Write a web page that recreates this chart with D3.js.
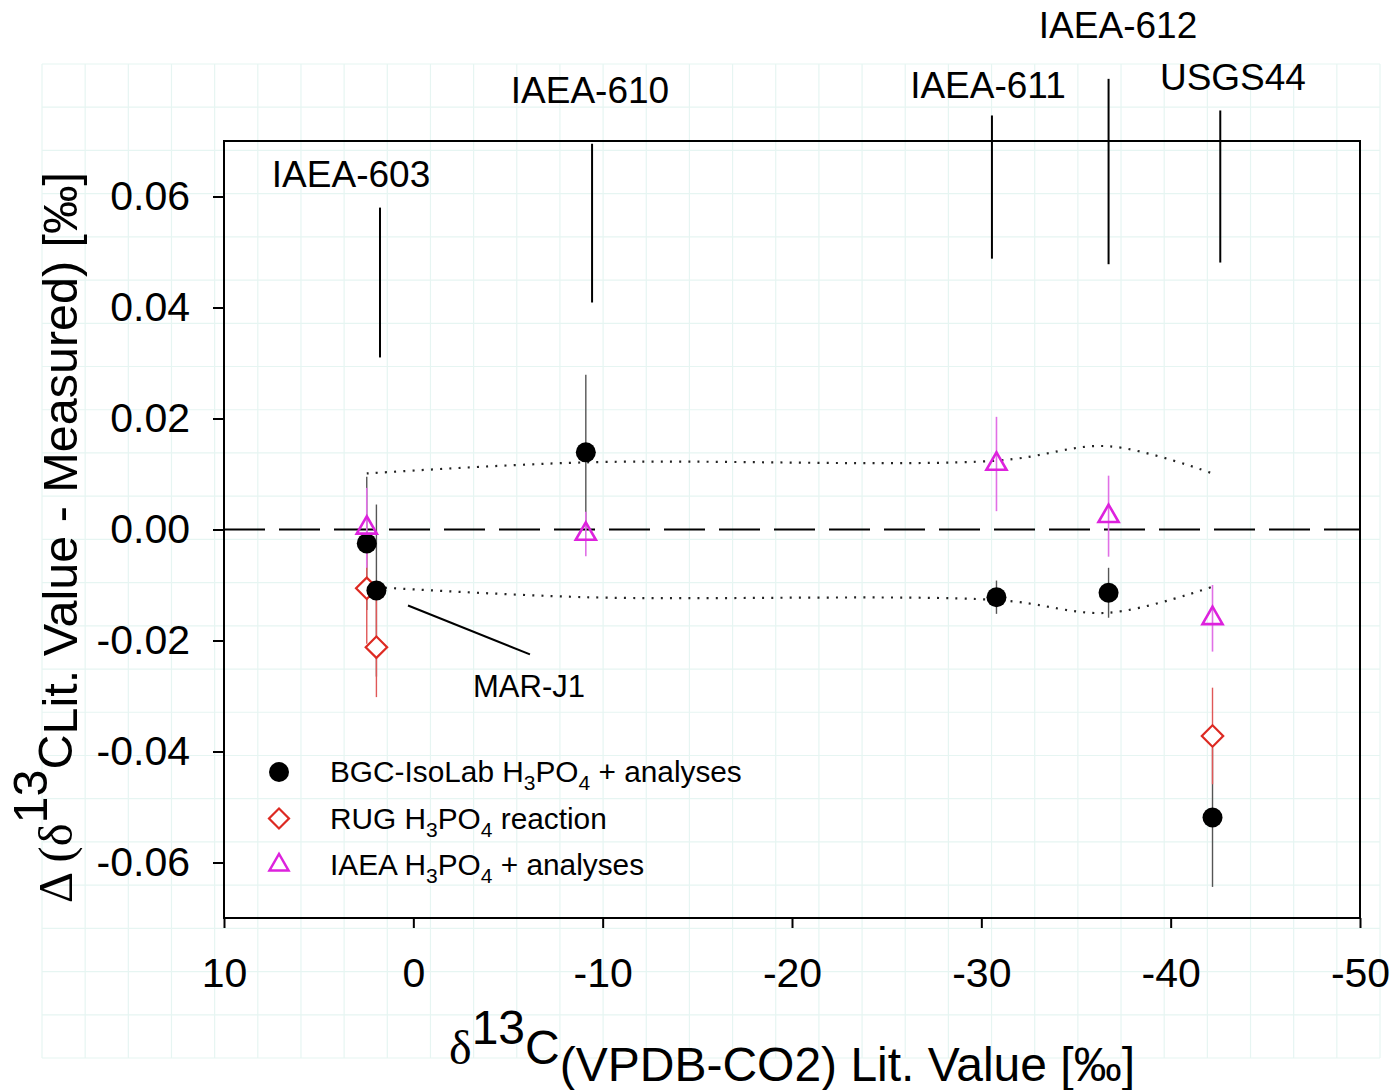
<!DOCTYPE html>
<html>
<head>
<meta charset="utf-8">
<script src="https://cdn.jsdelivr.net/npm/d3@7"></script>
<style>
  body { margin: 0; background: #fff; }
  text { font-family: "Liberation Sans", Arial, sans-serif; fill: #000; }
</style>
</head>
<body>
<svg id="chart" width="1392" height="1090"></svg>
<script>
////////////////// data ////////////////////
// BGC-IsoLab (black circles)
const bgcX = [2.46, 1.95, -9.11, -30.80, -36.72, -42.21];
const bgcDelta = [-0.0025, -0.0110, 0.0139, -0.0122, -0.0114, -0.0519];
const bgcErr = [0.012, 0.0155, 0.014, 0.003, 0.0045, 0.0125];
// RUG (red diamonds)
const rugX = [2.46, 1.95, -42.21];
const rugDelta = [-0.0106, -0.0212, -0.0372];
const rugErr = [0.010, 0.009, 0.0087];
// IAEA (magenta triangles)
const iaeaX = [2.46, -9.11, -30.80, -36.72, -42.21];
const iaeaDelta = [0.0003, -0.0008, 0.0118, 0.0024, -0.0160];
const iaeaErr = [0.0072, 0.004, 0.0085, 0.0073, 0.006];
// dotted uncertainty envelope
const boundX = [2.46, -9.11, -30.80, -36.72, -42.21];
const upperBound = [0.0101, 0.0121, 0.0124, 0.0150, 0.0101];
const lowerBound = [-0.0103, -0.0122, -0.0127, -0.0150, -0.0103];
// ticks
const xTicks = [10, 0, -10, -20, -30, -40, -50];
const yTicks = [-0.06, -0.04, -0.02, 0, 0.02, 0.04, 0.06];
// reference material annotations
const refNames = ["IAEA-603", "IAEA-610", "IAEA-611", "IAEA-612", "USGS44"];
const refLabelX = [3.29, -9.33, -30.35, -37.22, -43.29];
const refLabelY = [0.0618, 0.0769, 0.0778, 0.0886, 0.0791];
const refLineX = [1.76, -9.44, -30.56, -36.72, -42.62];
const refLineTop = [0.0580, 0.0695, 0.0746, 0.0812, 0.0755];
const refLineBottom = [0.0310, 0.0409, 0.0488, 0.0478, 0.0481];
// legend
const legendNames = ["BGC-IsoLab", "RUG", "IAEA"];
const legendTails = [" + analyses", " reaction", " + analyses"];

////////////////// layout ////////////////////
const svg = d3.select("#chart");
const plot = { left: 224, right: 1360, top: 141, bottom: 918 };
const x = d3.scaleLinear().domain([10, -50]).range([plot.left, plot.right]);
const y = d3.scaleLinear().domain([-0.07, 0.07]).range([plot.bottom, plot.top]);

const colBlack = "#000", colRed = "#dd2a22", colMag = "#dd22dd";

// faint background grid (paper look)
const grid = svg.append("g").attr("stroke", "#e6f5f2").attr("stroke-width", 1.2);
const gx0 = 42, gx1 = 1380, gy0 = 64, gy1 = 1058;
d3.range(32).forEach(i => {
    const gx = gx0 + i * (gx1 - gx0) / 31;
    grid.append("line").attr("x1", gx).attr("x2", gx).attr("y1", gy0).attr("y2", gy1);
});
d3.range(24).forEach(i => {
    const gy = gy0 + i * (gy1 - gy0) / 23;
    grid.append("line").attr("x1", gx0).attr("x2", gx1).attr("y1", gy).attr("y2", gy);
});

// axes
const fmtY = d => d.toFixed(2).replace("-0.00", "0.00");
const yAxis = svg.append("g")
    .attr("transform", `translate(${plot.left},0)`)
    .call(d3.axisLeft(y).tickValues(yTicks).tickFormat(fmtY).tickSize(11).tickPadding(23));
const xAxis = svg.append("g")
    .attr("transform", `translate(0,${plot.bottom})`)
    .call(d3.axisBottom(x).tickValues(xTicks).tickFormat(d => String(d)).tickSize(10).tickPadding(30));
[xAxis, yAxis].forEach(a => {
    a.select(".domain").remove();
    a.selectAll(".tick line").attr("stroke", "#000").attr("stroke-width", 2);
    a.selectAll(".tick text").attr("font-size", 41).attr("font-family", "Liberation Sans, Arial, sans-serif").attr("fill", "#000");
});

// zero line
svg.append("line")
    .attr("x1", x(10)).attr("x2", x(-50))
    .attr("y1", y(0)).attr("y2", y(0))
    .attr("stroke", "#000").attr("stroke-width", 2.2)
    .attr("stroke-dasharray", "41 14");

// dotted envelope
const envLine = d3.line().x(d => x(d[0])).y(d => y(d[1])).curve(d3.curveCatmullRom.alpha(0.5));
[upperBound, lowerBound].forEach(b => {
    svg.append("path")
        .attr("d", envLine(boundX.map((v, i) => [v, b[i]])))
        .attr("fill", "none").attr("stroke", "#222").attr("stroke-width", 2.2)
        .attr("stroke-dasharray", "2 7.2");
});

// error bars
function errBars(xs, ys, es, col, w) {
    svg.append("g").selectAll("line")
        .data(xs.map((v, i) => ({ x: v, y: ys[i], e: es[i] })))
        .join("line")
        .attr("x1", d => x(d.x)).attr("x2", d => x(d.x))
        .attr("y1", d => y(d.y + d.e)).attr("y2", d => y(d.y - d.e))
        .attr("stroke", col).attr("stroke-width", w);
}
errBars(bgcX, bgcDelta, bgcErr, "#555", 1.4);
errBars(rugX, rugDelta, rugErr, "#e05858", 1.4);
errBars(iaeaX, iaeaDelta, iaeaErr, "#e070e6", 1.6);

// symbols
const diamond = d3.symbol().type(d3.symbolSquare).size(230);
const triangle = d3.symbol().type(d3.symbolTriangle).size(175);

svg.append("g").selectAll("path")
    .data(rugX.map((v, i) => [v, rugDelta[i]]))
    .join("path")
    .attr("d", diamond)
    .attr("transform", d => `translate(${x(d[0])},${y(d[1])}) rotate(45)`)
    .attr("fill", "#fff").attr("stroke", colRed).attr("stroke-width", 2.2);

svg.append("g").selectAll("circle")
    .data(bgcX.map((v, i) => [v, bgcDelta[i]]))
    .join("circle")
    .attr("cx", d => x(d[0])).attr("cy", d => y(d[1])).attr("r", 10)
    .attr("fill", colBlack);

svg.append("g").selectAll("path")
    .data(iaeaX.map((v, i) => [v, iaeaDelta[i]]))
    .join("path")
    .attr("d", triangle)
    .attr("transform", d => `translate(${x(d[0])},${y(d[1])})`)
    .attr("fill", "none").attr("stroke", colMag).attr("stroke-width", 2.6);

// frame
svg.append("rect")
    .attr("x", plot.left).attr("y", plot.top)
    .attr("width", plot.right - plot.left).attr("height", plot.bottom - plot.top)
    .attr("fill", "none").attr("stroke", "#000").attr("stroke-width", 2);

// reference annotations
refNames.forEach((n, i) => {
    svg.append("line")
        .attr("x1", x(refLineX[i])).attr("x2", x(refLineX[i]))
        .attr("y1", y(refLineTop[i])).attr("y2", y(refLineBottom[i]))
        .attr("stroke", "#000").attr("stroke-width", 2);
    svg.append("text")
        .attr("x", x(refLabelX[i])).attr("y", y(refLabelY[i]))
        .attr("text-anchor", "middle").attr("font-size", 37)
        .text(n);
});
// MAR-J1 leader
svg.append("line")
    .attr("x1", x(0.28)).attr("y1", y(-0.0137))
    .attr("x2", x(-6.16)).attr("y2", y(-0.0225))
    .attr("stroke", "#000").attr("stroke-width", 2);
svg.append("text")
    .attr("x", x(-6.11)).attr("y", y(-0.0301))
    .attr("text-anchor", "middle").attr("font-size", 31)
    .text("MAR-J1");

// legend
const legend = svg.append("g").attr("transform", "translate(279,772)");
legendNames.forEach((n, i) => {
    const row = legend.append("g").attr("transform", `translate(0,${i * 46.5})`);
    if (i === 0) row.append("circle").attr("r", 10).attr("fill", colBlack);
    if (i === 1) row.append("path").attr("d", d3.symbol().type(d3.symbolSquare).size(200))
        .attr("transform", "rotate(45)").attr("fill", "none").attr("stroke", colRed).attr("stroke-width", 2.2);
    if (i === 2) row.append("path").attr("d", d3.symbol().type(d3.symbolTriangle).size(160))
        .attr("fill", "none").attr("stroke", colMag).attr("stroke-width", 2.4);
    const t = row.append("text").attr("x", 51).attr("y", 10).attr("font-size", 29.8);
    t.append("tspan").text(n + " H");
    t.append("tspan").attr("font-size", 21).attr("dy", 8).text("3");
    t.append("tspan").attr("dy", -8).text("PO");
    t.append("tspan").attr("font-size", 21).attr("dy", 8).text("4");
    t.append("tspan").attr("dy", -8).text(legendTails[i]);
});

// axis titles
const xt = svg.append("text")
    .attr("x", (plot.left + plot.right) / 2).attr("y", 1064)
    .attr("text-anchor", "middle").attr("font-size", 48);
xt.append("tspan").attr("font-family", "Liberation Serif, serif").text("δ");
xt.append("tspan").attr("dy", -20).text("13");
xt.append("tspan").attr("dy", 20).text("C");
xt.append("tspan").attr("dy", 17).text("(VPDB-CO2) Lit. Value [‰]");

const yt = svg.append("text")
    .attr("transform", `translate(72,${(plot.top + plot.bottom) / 2 + 8}) rotate(-90)`)
    .attr("text-anchor", "middle").attr("font-size", 48.5);
yt.append("tspan").attr("font-family", "Liberation Serif, serif").text("Δ (δ");
yt.append("tspan").attr("dy", -25).text("13");
yt.append("tspan").attr("dy", 25).text("C");
yt.append("tspan").attr("dy", 5).text("Lit.");
yt.append("tspan").text(" Value - Measured) [‰]");
</script>
</body>
</html>
